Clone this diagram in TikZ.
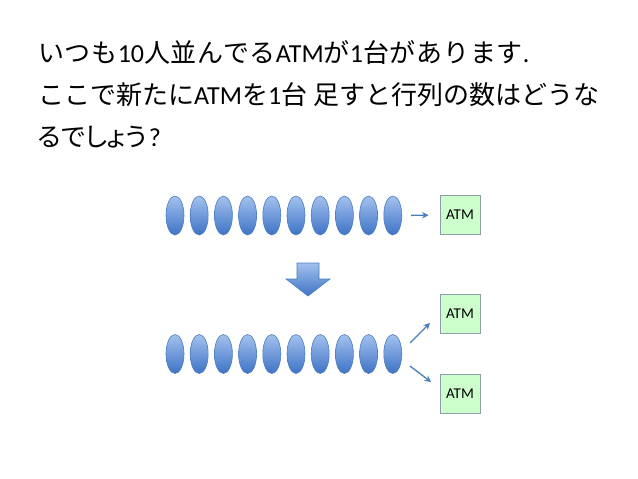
\documentclass[tikz,border=0pt]{standalone}
\usepackage{fontspec}
\setmainfont{Carlito}
\newfontfamily\jp{Noto Sans CJK JP}
\newfontfamily\jpw[LetterSpace=3]{Noto Sans CJK JP}
\newfontfamily\jpp[RawFeature=+palt]{Noto Sans CJK JP}
\newcommand{\J}[1]{{\jp #1}}
\newcommand{\JW}[1]{{\jpw #1}}
\newcommand{\JP}[1]{{\jpp #1}}
\usetikzlibrary{shapes.geometric,arrows.meta}
\definecolor{elltop}{HTML}{A3C1EE}
\definecolor{ellbot}{HTML}{3E73C6}
\definecolor{elldraw}{HTML}{4A7EBB}
\definecolor{atmfill}{HTML}{CCFFCC}
\definecolor{atmdraw}{HTML}{8C9DAC}
\definecolor{conncol}{HTML}{4A7EBB}
\tikzset{
  person/.style={ellipse, minimum width=18pt, minimum height=39pt, inner sep=0pt,
    draw=elldraw, line width=0.6pt, top color=elltop, bottom color=ellbot},
  atm/.style={draw=atmdraw, fill=atmfill, line width=0.8pt, minimum width=40pt,
    minimum height=39pt, inner sep=0pt, font=\fontsize{15}{17}\selectfont},
  conn/.style={draw=conncol, line width=1.3pt, -{Stealth[length=6.5pt,width=6.5pt]}},
  title/.style={anchor=base west, inner sep=0pt, font=\fontsize{26}{30}\selectfont}
}
\begin{document}
\begin{tikzpicture}[x=1pt,y=-1pt]
\useasboundingbox (0,0) rectangle (638,479);
\node[title] (l1) at (38,62) {\JW{いつも}10\JW{人並んでる}ATM\JW{が}1\JW{台があります}.};
\node[title] (l2) at (38,104) {\J{ここで新たに}ATM\J{を}1\J{台} \J{足すと行列の数はどうな}};
\node[title] (l3) at (38,146) {\JP{るでしょう}\kern1.5pt?};
\foreach \i in {0,...,9} {
  \node[person] (a\i) at (175+24.2*\i,215.5) {};
  \node[person] (b\i) at (175+24.2*\i,354) {};
}
\node[atm] (atm1) at (460,215) {ATM};
\node[atm] (atm2) at (460,314) {ATM};
\node[atm] (atm3) at (460,393.5) {ATM};
\draw[conn, shorten <=9pt, shorten >=11pt] (a9.east) -- (atm1.west);
\coordinate (s2) at (410,343);
\coordinate (e2) at (430,323);
\coordinate (s3) at (410,366);
\coordinate (e3) at (431,382);
\draw[conn] (s2) -- (e2);
\draw[conn] (s3) -- (e3);
\path[draw=elldraw, line width=0.6pt, top color=elltop, bottom color=ellbot]
  (297,263) -- (319,263) -- (319,279) -- (330,279) -- (308,296) -- (286,279) -- (297,279) -- cycle;
\end{tikzpicture}
\end{document}
